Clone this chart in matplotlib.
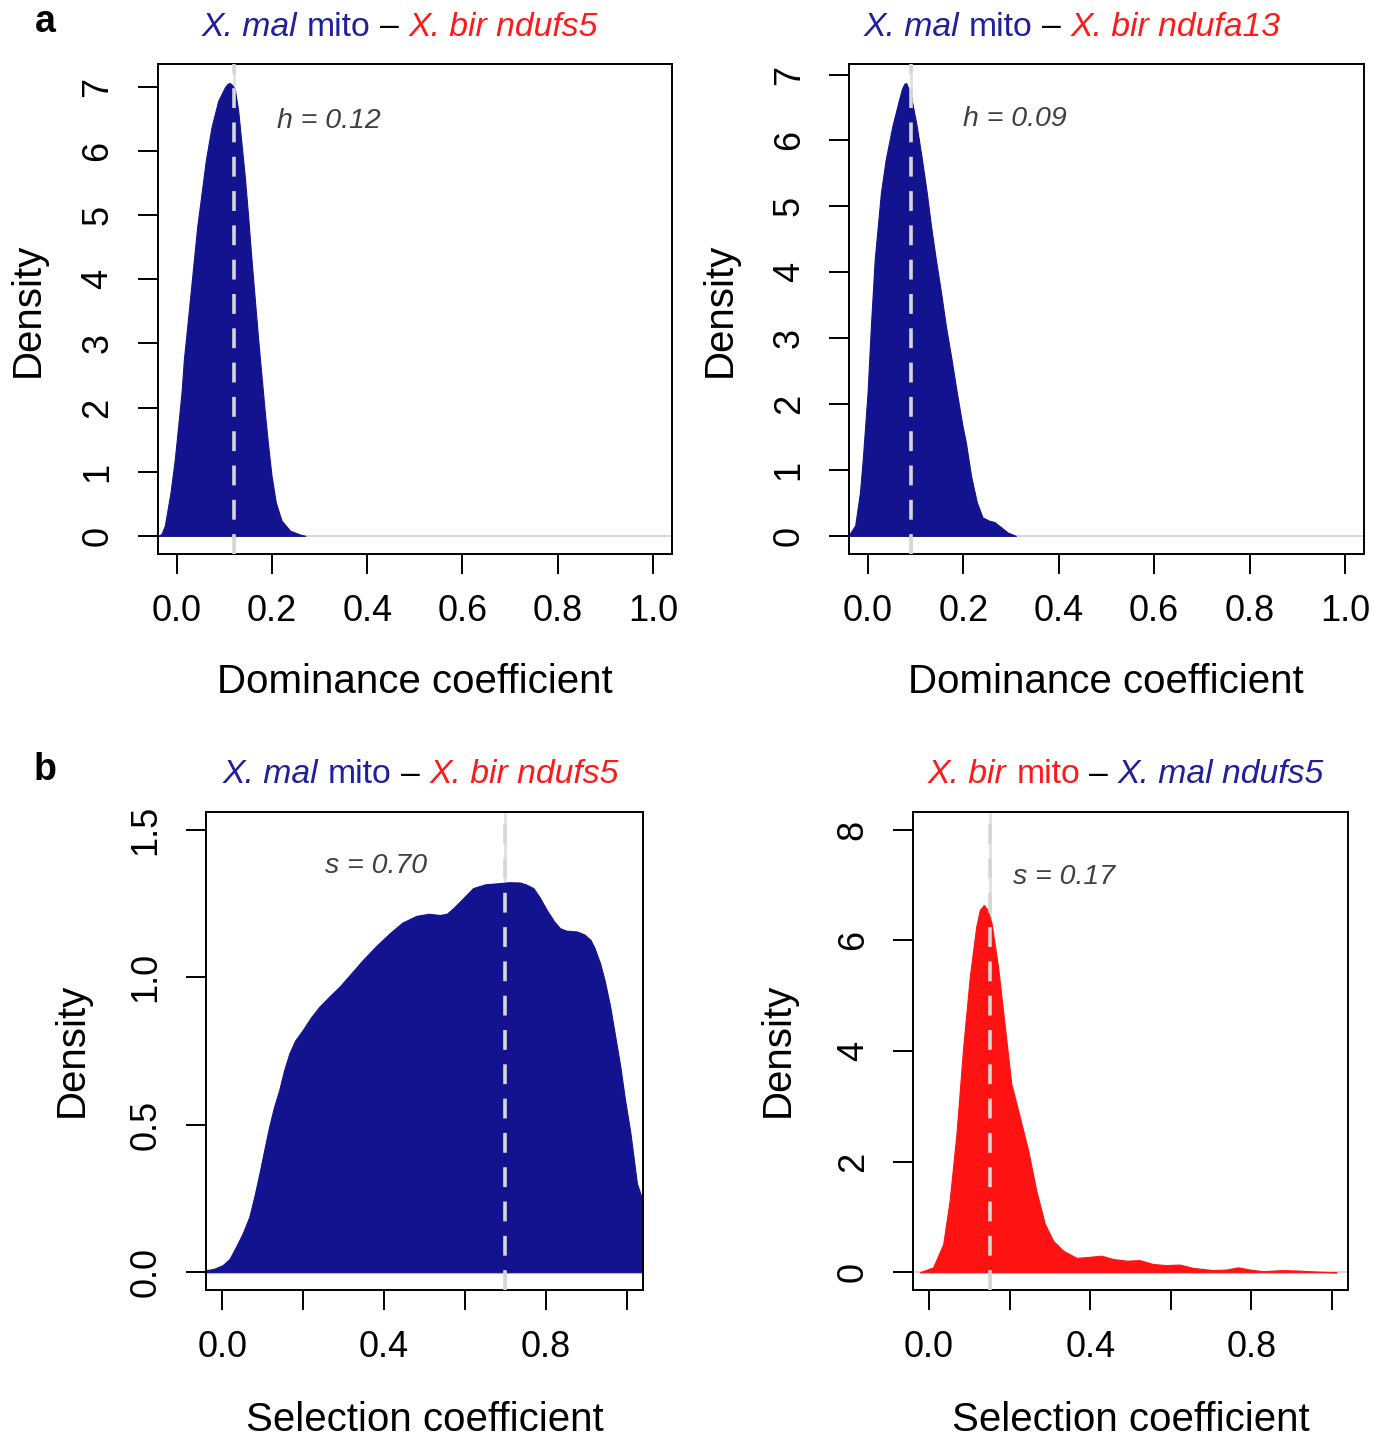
import matplotlib
matplotlib.use('Agg')
import matplotlib.pyplot as plt

plt.rcParams['font.family'] = ['Liberation Sans', 'DejaVu Sans']

W, H = 1388, 1441
DPI = 100

BLUE_FILL = '#13138f'
RED_FILL = '#fe1212'
BLUE_TXT = '#1f1fa0'
RED_TXT = '#ff1a1a'

# ---- data ----
# a, left: X. mal mito - X. bir ndufs5, dominance
dom1_x = [-0.039, -0.032, -0.025, -0.013, -0.004, 0.003, 0.010, 0.015, 0.022, 0.029,
          0.036, 0.043, 0.052, 0.061, 0.073, 0.087, 0.101, 0.106, 0.111, 0.116,
          0.122, 0.129, 0.136, 0.143, 0.150, 0.157, 0.164, 0.171, 0.178, 0.185,
          0.192, 0.199, 0.208, 0.220, 0.238, 0.259, 0.270]
dom1_y = [0.0, 0.03, 0.16, 0.68, 1.20, 1.71, 2.23, 2.75, 3.26, 3.78,
          4.30, 4.82, 5.33, 5.85, 6.37, 6.78, 6.99, 7.04, 7.06, 7.03,
          6.96, 6.63, 6.11, 5.59, 4.97, 4.30, 3.68, 3.06, 2.49, 1.92,
          1.40, 0.94, 0.52, 0.24, 0.08, 0.02, 0.0]
dom1_h = 0.12

# a, right: X. mal mito - X. bir ndufa13, dominance
dom2_x = [-0.040, -0.027, -0.017, -0.011, -0.001, 0.006, 0.014, 0.027, 0.037, 0.051,
          0.065, 0.071, 0.076, 0.080, 0.084, 0.090, 0.102, 0.113, 0.123, 0.132,
          0.142, 0.153, 0.163, 0.175, 0.186, 0.198, 0.205, 0.216, 0.228, 0.240,
          0.254, 0.265, 0.279, 0.293, 0.310]
dom2_y = [0.015, 0.16, 0.66, 1.17, 2.18, 3.19, 4.20, 5.21, 5.71, 6.22,
          6.62, 6.78, 6.86, 6.87, 6.80, 6.67, 6.22, 5.71, 5.21, 4.70,
          4.20, 3.69, 3.19, 2.68, 2.18, 1.67, 1.42, 0.91, 0.51, 0.28,
          0.23, 0.21, 0.13, 0.05, 0.0]
dom2_h = 0.09

# b, left: X. mal mito - X. bir ndufs5, selection
sel1_x = [-0.045, -0.040, -0.020, 0.001, 0.018, 0.034, 0.050, 0.067, 0.080, 0.092,
          0.104, 0.116, 0.128, 0.141, 0.153, 0.166, 0.180, 0.199, 0.220, 0.240,
          0.265, 0.290, 0.320, 0.348, 0.380, 0.414, 0.445, 0.480, 0.510, 0.538,
          0.555, 0.571, 0.590, 0.620, 0.650, 0.686, 0.710, 0.736, 0.750, 0.769,
          0.785, 0.802, 0.820, 0.835, 0.850, 0.877, 0.895, 0.910, 0.920, 0.934,
          0.945, 0.959, 0.970, 0.984, 0.995, 1.009, 1.025, 1.045]
sel1_y = [0.005, 0.007, 0.012, 0.024, 0.045, 0.086, 0.130, 0.188, 0.260, 0.335,
          0.415, 0.493, 0.560, 0.618, 0.685, 0.742, 0.785, 0.821, 0.865, 0.900,
          0.935, 0.968, 1.015, 1.059, 1.105, 1.149, 1.185, 1.208, 1.215, 1.211,
          1.215, 1.234, 1.260, 1.302, 1.315, 1.319, 1.322, 1.321, 1.315, 1.302,
          1.270, 1.228, 1.190, 1.166, 1.158, 1.155, 1.145, 1.127, 1.100, 1.047,
          0.990, 0.900, 0.810, 0.697, 0.590, 0.471, 0.301, 0.220]
sel1_s = 0.70

# b, right: X. bir mito - X. mal ndufs5, selection
sel2_x = [-0.023, 0.010, 0.035, 0.051, 0.068, 0.084, 0.101, 0.117, 0.126, 0.136,
          0.145, 0.155, 0.171, 0.188, 0.204, 0.225, 0.246, 0.266, 0.287, 0.308,
          0.333, 0.366, 0.399, 0.428, 0.457, 0.490, 0.523, 0.556, 0.589, 0.622,
          0.655, 0.705, 0.738, 0.767, 0.796, 0.829, 0.878, 0.920, 0.969, 1.011]
sel2_y = [0.0, 0.09, 0.51, 1.30, 2.51, 4.02, 5.34, 6.25, 6.55, 6.64,
          6.55, 6.31, 5.53, 4.44, 3.41, 2.81, 2.20, 1.48, 0.88, 0.57,
          0.39, 0.26, 0.28, 0.30, 0.24, 0.21, 0.22, 0.15, 0.13, 0.14,
          0.08, 0.04, 0.05, 0.09, 0.05, 0.02, 0.04, 0.03, 0.01, 0.0]
sel2_s = 0.15

dom_xticks = [0.0, 0.2, 0.4, 0.6, 0.8, 1.0]
dom_xticklabels = ['0.0', '0.2', '0.4', '0.6', '0.8', '1.0']
sel_xticks = [0.0, 0.2, 0.4, 0.6, 0.8, 1.0]
sel_xticklabels = ['0.0', '', '0.4', '', '0.8', '']
dom_yticks = [0, 1, 2, 3, 4, 5, 6, 7]
dom_yticklabels = ['0', '1', '2', '3', '4', '5', '6', '7']
sel1_yticks = [0.0, 0.5, 1.0, 1.5]
sel1_yticklabels = ['0.0', '0.5', '1.0', '1.5']
sel2_yticks = [0, 2, 4, 6, 8]
sel2_yticklabels = ['0', '2', '4', '6', '8']


def fx(x):
    return x / W


def fy(y):
    return 1 - y / H


def panel(fig, box, xs, ys, fill, vline, ylim, yticks, yticklabels,
          xticks, xticklabels, note, note_xy):
    l, t, r, b = box
    ax = fig.add_axes([fx(l), fy(b), (r - l) / W, (b - t) / H])
    ax.set_xlim(-0.04, 1.04)
    ax.set_ylim(*ylim)
    ax.axhline(0, color='#cfcfcf', lw=1.2, zorder=1)
    ax.axvline(vline, color='#e2e2e2', lw=2.2, zorder=1)
    ax.fill_between(xs, ys, 0, facecolor=fill, edgecolor=fill, lw=0.8, zorder=2)
    ax.axvline(vline, color='#d6d6d6', lw=2.6, dashes=(5.5, 4.0), zorder=3)
    ax.text(note_xy[0], note_xy[1], note, style='italic', color='#404040',
            fontsize=20.5, ha='left', va='center', zorder=4)
    ax.set_xticks(xticks)
    ax.set_xticklabels(xticklabels)
    ax.set_yticks(yticks)
    ax.set_yticklabels(yticklabels)
    ax.tick_params(direction='out', length=14.5, width=1.4, labelsize=26, colors='black')
    ax.tick_params(axis='x', pad=14)
    ax.tick_params(axis='y', pad=16, labelrotation=90)
    for lab in ax.get_yticklabels():
        lab.set_va('center')
    for sp in ax.spines.values():
        sp.set_linewidth(1.4)
    return ax


def title(fig, parts, cx, cy, size=24.3):
    # parts: (text, colour, style); joined by single spaces
    r = fig.canvas.get_renderer()
    texts = [fig.text(0, fy(cy), s, color=c, style=st, fontsize=size,
                      ha='left', va='center') for s, c, st in parts]
    widths = [t.get_window_extent(r).width for t in texts]
    gap = 0.278 * size * DPI / 72
    x = cx - (sum(widths) + gap * (len(parts) - 1)) / 2
    for t, w in zip(texts, widths):
        t.set_x(fx(x))
        x += w + gap


def main():
    fig = plt.figure(figsize=(W / DPI, H / DPI), dpi=DPI)

    panel(fig, (157.7, 64.3, 672, 554), dom1_x, dom1_y, BLUE_FILL, dom1_h,
          (-0.283, 7.35), dom_yticks, dom_yticklabels, dom_xticks, dom_xticklabels,
          'h = 0.12', (0.21, 6.47))
    panel(fig, (849, 64.3, 1364, 554), dom2_x, dom2_y, BLUE_FILL, dom2_h,
          (-0.275, 7.155), dom_yticks, dom_yticklabels, dom_xticks, dom_xticklabels,
          'h = 0.09', (0.20, 6.32))
    panel(fig, (206, 812, 643, 1290), sel1_x, sel1_y, BLUE_FILL, sel1_s,
          (-0.06, 1.56), sel1_yticks, sel1_yticklabels, sel_xticks, sel_xticklabels,
          's = 0.70', (0.255, 1.378))
    panel(fig, (913, 812, 1348, 1290), sel2_x, sel2_y, RED_FILL, sel2_s,
          (-0.32, 8.32), sel2_yticks, sel2_yticklabels, sel_xticks, sel_xticklabels,
          's = 0.17', (0.208, 7.15))

    # axis titles
    for cx, cy, s in [(415, 682, 'Dominance coefficient'), (1106, 682, 'Dominance coefficient'),
                      (425, 1420, 'Selection coefficient'), (1131, 1420, 'Selection coefficient')]:
        fig.text(fx(cx), fy(cy), s, fontsize=29, ha='center', va='center')
    for cx, cy in [(28, 310), (720, 310), (72, 1050), (778, 1050)]:
        fig.text(fx(cx), fy(cy), 'Density', fontsize=29, rotation=90, ha='center', va='center')

    # coloured panel titles
    title(fig, [('X. mal', BLUE_TXT, 'italic'), ('mito', BLUE_TXT, 'normal'),
                ('\u2013', 'black', 'normal'), ('X. bir ndufs5', RED_TXT, 'italic')], 400, 27)
    title(fig, [('X. mal', BLUE_TXT, 'italic'), ('mito', BLUE_TXT, 'normal'),
                ('\u2013', 'black', 'normal'), ('X. bir ndufa13', RED_TXT, 'italic')], 1072, 27)
    title(fig, [('X. mal', BLUE_TXT, 'italic'), ('mito', BLUE_TXT, 'normal'),
                ('\u2013', 'black', 'normal'), ('X. bir ndufs5', RED_TXT, 'italic')], 421, 775)
    title(fig, [('X. bir', RED_TXT, 'italic'), ('mito', RED_TXT, 'normal'),
                ('\u2013', 'black', 'normal'), ('X. mal ndufs5', BLUE_TXT, 'italic')], 1126, 775)

    fig.text(fx(45), fy(22), 'a', fontsize=27, fontweight='bold', ha='center', va='center')
    fig.text(fx(45), fy(770), 'b', fontsize=27, fontweight='bold', ha='center', va='center')

    fig.savefig('out.png', dpi=DPI)


if __name__ == '__main__':
    main()
